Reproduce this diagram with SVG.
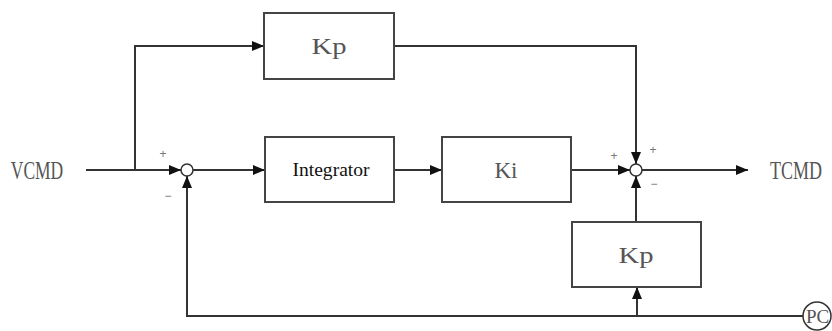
<svg xmlns="http://www.w3.org/2000/svg" width="832" height="331" viewBox="0 0 832 331">
<style>
.box{fill:#fff;stroke:#444;stroke-width:2}
.ln{fill:none;stroke:#333;stroke-width:2}
.sum{fill:#fff;stroke:#333;stroke-width:1.5}
.lbl{font-family:"Liberation Serif",serif;font-size:23px;fill:#555;text-anchor:middle}
.big{font-family:"Liberation Serif",serif;font-size:25px;fill:#555;text-anchor:middle}
.sg{font-family:"Liberation Sans",sans-serif;font-size:12px;fill:#777;text-anchor:middle}
</style>
<defs>
<marker id="ar" viewBox="0 0 12 10" refX="12" refY="5" markerWidth="12" markerHeight="10" markerUnits="userSpaceOnUse" orient="auto">
<path d="M0,0 L12,5 L0,10 Z" fill="#111"/>
</marker>
</defs>
<g id="connectors">
<path class="ln" d="M86,170 H181" marker-end="url(#ar)"/>
<path class="ln" d="M135,170 V46 H264" marker-end="url(#ar)"/>
<path class="ln" d="M193,170 H265" marker-end="url(#ar)"/>
<path class="ln" d="M394,170 H442" marker-end="url(#ar)"/>
<path class="ln" d="M571,170 H630" marker-end="url(#ar)"/>
<path class="ln" d="M394,46 H636 V164" marker-end="url(#ar)"/>
<path class="ln" d="M642,170 H748" marker-end="url(#ar)"/>
<path class="ln" d="M636,222 V176" marker-end="url(#ar)"/>
<path class="ln" d="M803,316 H187 V176" marker-end="url(#ar)"/>
<path class="ln" d="M637,316 V287" marker-end="url(#ar)"/>
</g>
<g id="sum1">
<circle class="sum" cx="187" cy="170" r="6"/>
<text class="sg" x="163" y="158">+</text>
<text class="sg" x="168" y="200">−</text>
</g>
<g id="sum2">
<circle class="sum" cx="636" cy="170" r="6"/>
<text class="sg" x="614" y="160">+</text>
<text class="sg" x="653" y="154">+</text>
<text class="sg" x="654" y="188">−</text>
</g>
<g id="kp-top">
<rect class="box" x="264" y="13" width="130" height="66"/>
<text class="lbl" x="329" y="54" textLength="35" lengthAdjust="spacingAndGlyphs">Kp</text>
</g>
<g id="integrator">
<rect class="box" x="265" y="137" width="129" height="65"/>
<text x="331" y="176" font-family="Liberation Serif, serif" font-size="19" fill="#111" text-anchor="middle" textLength="77" lengthAdjust="spacingAndGlyphs">Integrator</text>
</g>
<g id="ki">
<rect class="box" x="442" y="137" width="129" height="65"/>
<text class="lbl" x="506" y="178" textLength="23" lengthAdjust="spacing">Ki</text>
</g>
<g id="kp-bottom">
<rect class="box" x="572" y="222" width="129" height="65"/>
<text class="lbl" x="636" y="263" textLength="35" lengthAdjust="spacingAndGlyphs">Kp</text>
</g>
<g id="pc">
<circle class="sum" cx="817" cy="316" r="14"/>
<text x="806" y="323" font-family="Liberation Serif, serif" font-size="19" fill="#555">PC</text>
</g>
<g id="vcmd">
<text class="big" transform="translate(37,179) scale(0.7,1)">VCMD</text>
</g>
<g id="tcmd">
<text class="big" transform="translate(796,179) scale(0.72,1)">TCMD</text>
</g>
</svg>
